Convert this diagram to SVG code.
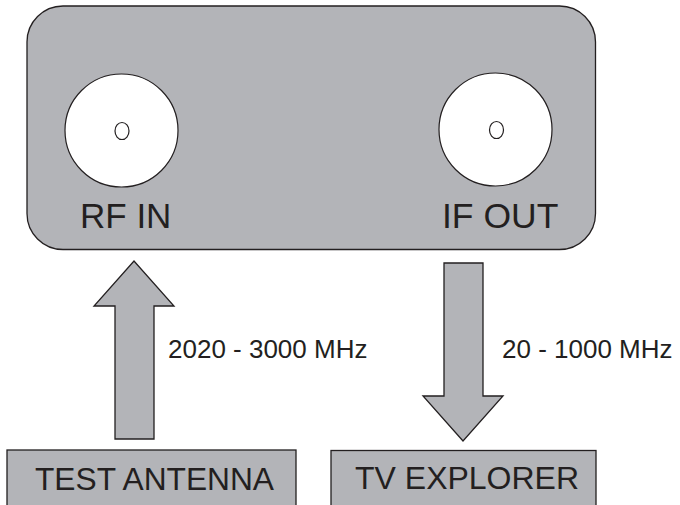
<svg xmlns="http://www.w3.org/2000/svg" width="680" height="505" viewBox="0 0 680 505">
  <style>
    .fill { fill: #b3b4b8; stroke: #231f20; stroke-width: 1.3; }
    .port { fill: #ffffff; stroke: #231f20; stroke-width: 1.2; }
    .lbl { font-family: "Liberation Sans", Arial, sans-serif; fill: #231f20; }
  </style>
  <rect width="680" height="505" fill="#ffffff"/>
  <g id="device">
    <rect class="fill" x="27" y="6" width="568.5" height="243.5" rx="36" ry="36"/>
    <g id="rf-in">
      <circle class="port" cx="121.5" cy="130.5" r="56.5"/>
      <ellipse class="port" cx="122" cy="131" rx="7" ry="8.5"/>
      <text class="lbl" x="80" y="228" font-size="35">RF IN</text>
    </g>
    <g id="if-out">
      <circle class="port" cx="495.5" cy="129.5" r="56.5"/>
      <ellipse class="port" cx="496.5" cy="130" rx="7" ry="8.5"/>
      <text class="lbl" x="442" y="228" font-size="35.5">IF OUT</text>
    </g>
  </g>
  <g id="connectors">
    <polygon class="fill" points="115,439 115,306 94,306 134,261 174,306 154,306 154,439"/>
    <text class="lbl" x="168" y="358" font-size="26">2020 - 3000 MHz</text>
    <polygon class="fill" points="444,263 483,263 483,396 503,396 463,441 423,396 444,396"/>
    <text class="lbl" x="502" y="358" font-size="26">20 - 1000 MHz</text>
  </g>
  <g id="test-antenna">
    <rect class="fill" x="7" y="450" width="289" height="70"/>
    <text class="lbl" x="35" y="490" font-size="32" textLength="239" lengthAdjust="spacingAndGlyphs">TEST ANTENNA</text>
  </g>
  <g id="tv-explorer">
    <rect class="fill" x="331" y="450.5" width="265" height="70"/>
    <text class="lbl" x="355" y="488.5" font-size="32">TV EXPLORER</text>
  </g>
</svg>
